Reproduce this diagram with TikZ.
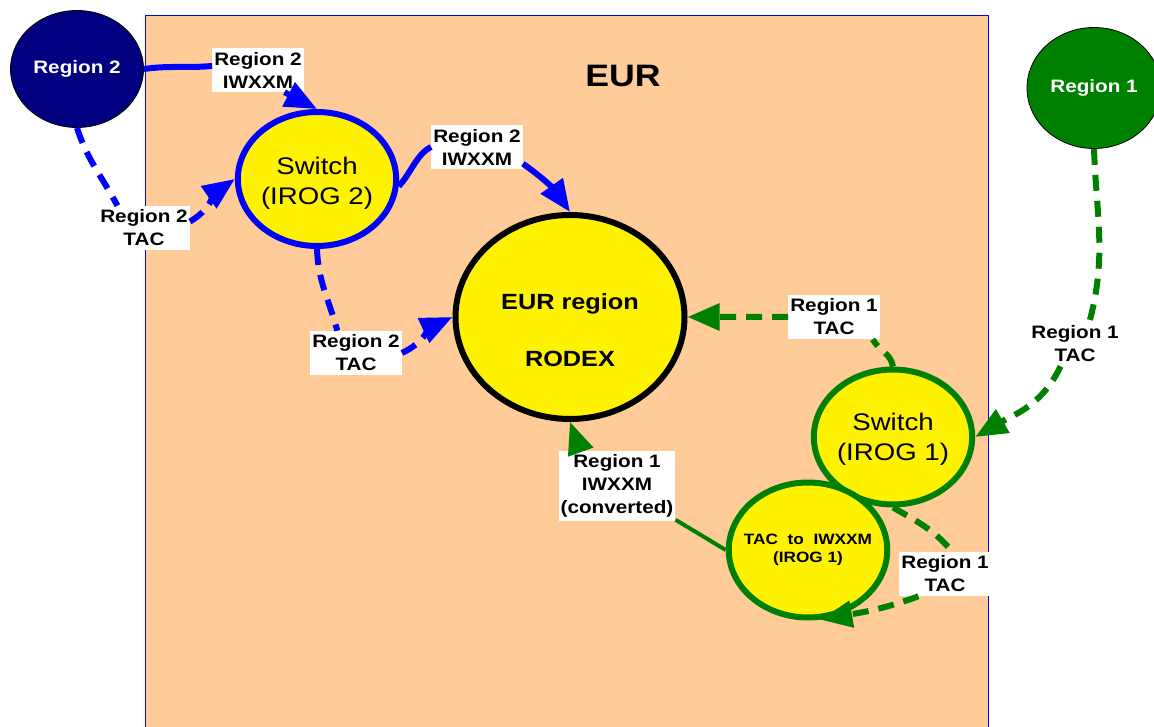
\documentclass[tikz,border=0pt]{standalone}
\usepackage{fontspec}
\setmainfont{Liberation Sans}[FakeStretch=1.15]
\usetikzlibrary{arrows.meta,shapes.geometric}
\definecolor{peach}{RGB}{255,204,153}
\definecolor{navy}{RGB}{0,0,128}
\definecolor{grn}{RGB}{0,128,0}
\tikzset{
  lbl/.style={fill=white,align=center,inner xsep=2pt,inner ysep=4pt,font=\bfseries\fontsize{18}{23}\selectfont},
  ball/.style={ellipse,draw,fill=yellow,line width=6pt,align=center,inner sep=0pt},
  region/.style={ellipse,draw=black,line width=0.8pt,text=white,inner sep=0pt,font=\bfseries\fontsize{18}{22}\selectfont},
  flow/.style={line width=6pt,-{Triangle[length=32pt,width=26pt]}},
  tacflow/.style={flow,dash pattern=on 16pt off 10pt}
}

\begin{document}
\begin{tikzpicture}[x=1pt,y=1pt]
\useasboundingbox (0,0) rectangle (1154,-727);
\fill[peach] (145,-16) rectangle (988,-727);
\draw[blue,line width=1pt] (145,-727) |- (988,-16) -- (988,-727);
\node[font=\bfseries\fontsize{31}{36}\selectfont] (eurtitle) at (623,-76) {EUR};

\node[region,fill=navy,minimum width=133pt,minimum height=117pt] (r2) at (77,-69) {Region 2};
\node[region,fill=grn,minimum width=134pt,minimum height=121pt] (r1) at (1094,-88) {Region 1};
\node[ball,draw=blue,minimum width=152pt,minimum height=134pt,font=\fontsize{24}{30}\selectfont] (sw2) at (317,-179) {\raisebox{0pt}[25pt]{Switch}\\(IROG 2)};
\node[ball,draw=black,minimum width=229pt,minimum height=204pt,font=\bfseries\fontsize{22}{57}\selectfont] (eur) at (570,-317) {\raisebox{0pt}[42pt]{EUR region}\\RODEX};
\node[ball,draw=grn,minimum width=152pt,minimum height=135pt,font=\fontsize{24}{30}\selectfont] (sw1) at (893,-437) {\raisebox{0pt}[22pt]{Switch}\\(IROG 1)};
\node[ball,draw=grn,inner sep=-8pt,minimum width=150pt,minimum height=135pt,font=\bfseries\fontsize{15}{18}\selectfont] (conv) at (808,-550) {TAC\ \ to\ \ IWXXM\\(IROG 1)};

\node[lbl] (la) at (258,-70) {Region 2\\IWXXM};
\node[lbl] (lb) at (144,-228) {Region 2\\TAC};
\node[lbl] (lc) at (477,-147) {Region 2\\IWXXM};
\node[lbl] (ld) at (356,-353) {Region 2\\TAC};
\node[lbl] (le) at (834,-317) {Region 1\\TAC};
\node[lbl] (lf) at (1075,-344) {Region 1\\TAC};
\node[lbl] (lg) at (617,-486) {Region 1\\IWXXM\\(converted)};
\node[lbl] (lh) at (945,-574) {Region 1\\TAC};

% region 2 flows
\draw[flow,blue] (r2.east) to[out=8,in=185] (la.175) (la.-40) -- (sw2.north);
\draw[tacflow,blue] (r2.south) to[out=-72,in=118] (lb.140) (lb.8) to[out=30,in=215] (sw2.west);
\draw[flow,blue] (sw2.-5) to[out=45,in=205,looseness=0.8] (lc.180) (lc.-20) to[out=-35,in=125] (eur.north);
\draw[tacflow,blue] (sw2.south) to[out=-88,in=105] (ld.130) (ld.0) to[out=25,in=205] (eur.west);
% region 1 flows
\draw[tacflow,grn] (r1.south) to[out=-88,in=75] (lf.57) (lf.-123) to[out=-115,in=30] (sw1.east);
\draw[tacflow,grn] (sw1.north) to[out=100,in=-60] (le.-30) (le.180) -- (eur.east);
\draw[tacflow,grn] (sw1.south) to[out=-30,in=130] (lh.72) (lh.-140) to[out=200,in=10] (conv.-80);
\draw[flow,grn,line width=4pt] (conv.west) -- (lg.-30) (lg.136) -- (eur.south);
\end{tikzpicture}
\end{document}
